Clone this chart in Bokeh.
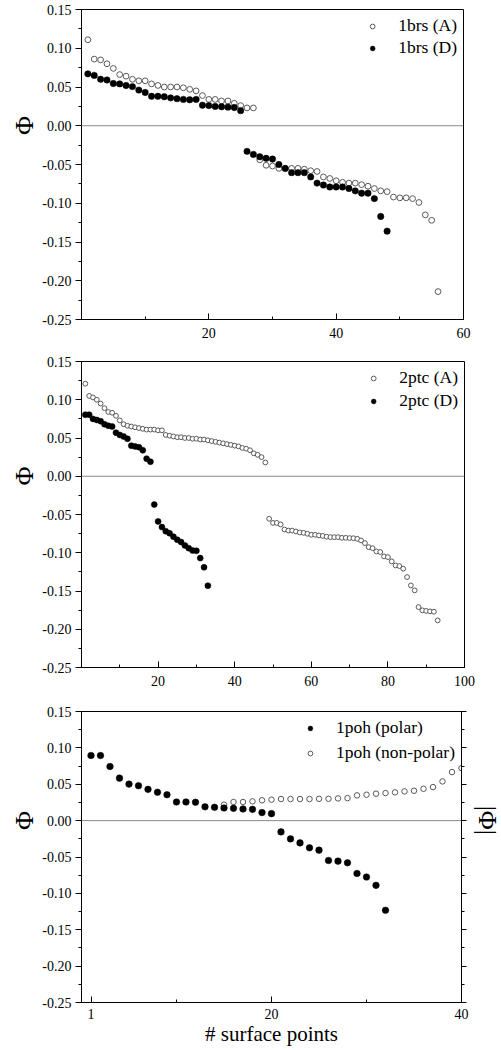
from math import pi
import numpy as np
from bokeh.plotting import figure
from bokeh.layouts import column
from bokeh.models import (Range1d, FixedTicker, NumeralTickFormatter, Span, Title,
                          Legend, LegendItem, LinearAxis, CustomJSTickFormatter)
from bokeh.embed import file_html
from bokeh.resources import INLINE

SERIF = "Liberation Serif"

# ---------------- data ----------------
brs_A = [0.111, 0.086, 0.085, 0.080, 0.074, 0.066, 0.064, 0.060, 0.058, 0.058,
         0.054, 0.052, 0.050, 0.050, 0.050, 0.049, 0.047, 0.045, 0.039, 0.034,
         0.034, 0.032, 0.032, 0.029, 0.026, 0.023, 0.023,
         -0.044, -0.051, -0.052, -0.055, -0.055, -0.055, -0.055, -0.056, -0.058, -0.059,
         -0.066, -0.068, -0.071, -0.073, -0.074, -0.074, -0.076, -0.078, -0.081, -0.084,
         -0.085, -0.092, -0.093, -0.093, -0.094, -0.099, -0.115, -0.122, -0.214]
brs_D = [0.067, 0.065, 0.060, 0.059, 0.0545, 0.054, 0.052, 0.0505, 0.046, 0.043,
         0.038, 0.038, 0.0375, 0.036, 0.035, 0.034, 0.0335, 0.034, 0.0265, 0.026,
         0.025, 0.0245, 0.024, 0.0235, 0.0195,
         -0.033, -0.037, -0.040, -0.042, -0.043, -0.050, -0.055, -0.0605, -0.0605, -0.0605,
         -0.066, -0.074, -0.0765, -0.079, -0.079, -0.079, -0.081, -0.084, -0.087, -0.087,
         -0.094, -0.117, -0.136]

ptc_A = [0.121, 0.105, 0.103, 0.100, 0.095, 0.089, 0.084, 0.083, 0.079, 0.073,
         0.068, 0.066, 0.065, 0.064, 0.063, 0.062, 0.061, 0.061, 0.061, 0.060,
         0.060, 0.054, 0.053, 0.052, 0.051, 0.051, 0.050, 0.050, 0.049, 0.049,
         0.048, 0.048, 0.047, 0.046, 0.045, 0.044, 0.043, 0.042, 0.041, 0.040,
         0.039, 0.037, 0.036, 0.034, 0.030, 0.028, 0.025, 0.018,
         -0.0556, -0.061, -0.061, -0.063, -0.0696, -0.071, -0.071, -0.0722, -0.0735, -0.074,
         -0.0752, -0.0765, -0.0765, -0.0774, -0.078, -0.079, -0.0796, -0.0796, -0.0796, -0.0805,
         -0.0805, -0.0808, -0.081, -0.0818, -0.0839, -0.0874, -0.0927, -0.094, -0.0983, -0.099,
         -0.1048, -0.1057, -0.1113, -0.1166, -0.1174, -0.1209, -0.1318, -0.1427, -0.1492, -0.171,
         -0.1753, -0.176, -0.1766, -0.1771, -0.1884]
ptc_D = [0.0805, 0.0805, 0.075, 0.0736, 0.072, 0.068, 0.066, 0.065, 0.057, 0.054,
         0.052, 0.049, 0.040, 0.039, 0.038, 0.034, 0.023, 0.019,
         -0.037, -0.059, -0.0665, -0.072, -0.0745, -0.079, -0.083, -0.086, -0.0905, -0.094,
         -0.097, -0.0975, -0.107, -0.119, -0.143]

poh_polar = [0.0895, 0.0895, 0.0744, 0.0584, 0.0502, 0.048, 0.043, 0.039, 0.0356, 0.0256,
             0.0256, 0.0253, 0.019, 0.0183, 0.0174, 0.0169, 0.016, 0.0155, 0.011, 0.0096,
             -0.0155, -0.0251, -0.0306, -0.0374, -0.0406, -0.0548, -0.0557, -0.058, -0.0726, -0.0776,
             -0.089, -0.1233]
poh_nonpolar_first = 15
poh_nonpolar = [0.0219, 0.0256, 0.0256, 0.0265, 0.0279, 0.0288, 0.0297, 0.0297, 0.0297, 0.0297,
                0.030, 0.030, 0.0305, 0.031, 0.0347, 0.0356, 0.037, 0.0379, 0.0388, 0.0402,
                0.0411, 0.0438, 0.0461, 0.0539, 0.0667, 0.0722]

y_ticks = [-0.25, -0.20, -0.15, -0.10, -0.05, 0.00, 0.05, 0.10, 0.15]
y_minor = [-0.225, -0.175, -0.125, -0.075, -0.025, 0.025, 0.075, 0.125]

p1_xticks, p1_xminor = [20, 40, 60], [10, 30, 50]
p2_xticks, p2_xminor = [20, 40, 60, 80, 100], [10, 30, 50, 70, 90]
p3_xticks, p3_xminor = [1, 20, 40], [10, 30]

Y_LO, Y_HI = -0.25, 0.15
PHI_FONT = "26px"
PHI_W = 19.5      # approx. width of "Φ" at 26px
ABS_PHI_W = 30.0  # approx. width of "|Φ|" at 26px


def idx(vals, start=1):
    return list(range(start, start + len(vals)))


def make_panel(xmax, xticks, xminor, fw, fh, bl, bt, bb, br, xstand):
    p = figure(frame_width=fw, frame_height=fh, min_border_left=bl, min_border_top=bt,
               min_border_bottom=bb, min_border_right=br,
               x_range=Range1d(0, xmax), y_range=Range1d(Y_LO, Y_HI),
               output_backend="svg", toolbar_location=None, tools="", title=None)
    p.grid.visible = False
    p.outline_line_color = "black"
    p.outline_line_width = 1
    p.background_fill_color = "white"
    p.border_fill_color = "white"

    xa = p.xaxis[0]
    xa.ticker = FixedTicker(ticks=xticks, minor_ticks=xminor)
    xa.major_tick_in, xa.major_tick_out = 6, 0
    xa.minor_tick_in, xa.minor_tick_out = 3, 0
    xa.major_label_standoff = xstand
    xa.major_label_text_font = SERIF
    xa.major_label_text_font_size = "14px"
    xa.major_label_text_color = "black"
    xa.axis_line_color = "black"

    ya = p.yaxis[0]
    ya.ticker = FixedTicker(ticks=y_ticks, minor_ticks=y_minor)
    ya.formatter = NumeralTickFormatter(format="0.00")
    ya.major_tick_in, ya.major_tick_out = 0, 6
    ya.minor_tick_in, ya.minor_tick_out = 0, 3
    ya.major_label_standoff = 4
    ya.major_label_text_font = SERIF
    ya.major_label_text_font_size = "14px"
    ya.major_label_text_color = "black"
    ya.axis_line_color = "black"

    p.add_layout(Span(location=0, dimension="width", line_color="#8a8a8a", line_width=1))
    zero_from_top = fh * Y_HI / (Y_HI - Y_LO)
    p.add_layout(Title(text="Φ", align="right", vertical_align="middle",
                       offset=zero_from_top - PHI_W / 2, standoff=0,
                       text_font=SERIF, text_font_size=PHI_FONT, text_font_style="normal",
                       text_color="black"), "left")
    return p


def add_legend(p, items, spacing):
    leg = Legend(items=items, location="top_right", orientation="vertical",
                 glyph_width=12, glyph_height=20, label_height=20, label_standoff=20,
                 spacing=spacing, padding=0, margin=6, border_line_color=None,
                 background_fill_alpha=0, label_text_font=SERIF,
                 label_text_font_size="17.5px", label_text_color="black")
    p.add_layout(leg)


OPEN = dict(fill_color="white", line_color="#5a5a5a", line_width=1)
FILL = dict(fill_color="black", line_color="black", line_width=0.5)

# ---------------- panel 1 ----------------
p1 = make_panel(60, p1_xticks, p1_xminor, 382, 310, 78, 9, 31, 38, 8)
rA = p1.scatter(idx(brs_A), brs_A, size=5.8, **OPEN)
rD = p1.scatter(idx(brs_D), brs_D, size=6.4, **FILL)
add_legend(p1, [LegendItem(label="1brs (A)", renderers=[rA]),
                LegendItem(label="1brs (D)", renderers=[rD])], 1)

# ---------------- panel 2 ----------------
p2 = make_panel(100, p2_xticks, p2_xminor, 383, 306, 80, 11, 33, 35, 8)
rA2 = p2.scatter(idx(ptc_A), ptc_A, size=4.8, **OPEN)
rD2 = p2.scatter(idx(ptc_D), ptc_D, size=6.0, **FILL)
add_legend(p2, [LegendItem(label="2ptc (A)", renderers=[rA2]),
                LegendItem(label="2ptc (D)", renderers=[rD2])], 2)

# ---------------- panel 3 ----------------
FH3, FW3 = 291, 380
p3 = make_panel(40, p3_xticks, p3_xminor, FW3, FH3, 81, 11, 46, 37, 6)
rN = p3.scatter(idx(poh_nonpolar, poh_nonpolar_first), poh_nonpolar, size=5.5, **OPEN)
rP = p3.scatter(idx(poh_polar), poh_polar, size=6.6, **FILL)
add_legend(p3, [LegendItem(label="1poh (polar)", renderers=[rP]),
                LegendItem(label="1poh (non-polar)", renderers=[rN])], 4)

xa3 = p3.xaxis[0]
xa3.axis_label = "# surface points"
xa3.axis_label_standoff = 0
xa3.axis_label_text_font = SERIF
xa3.axis_label_text_font_size = "21px"
xa3.axis_label_text_font_style = "normal"
xa3.axis_label_text_color = "black"

rax = LinearAxis(ticker=FixedTicker(ticks=y_ticks, minor_ticks=y_minor),
                 formatter=CustomJSTickFormatter(code="return ''"),
                 major_tick_in=0, major_tick_out=5, minor_tick_in=0, minor_tick_out=3,
                 axis_line_color="black", major_label_standoff=0)
p3.add_layout(rax, "right")
zero3 = FH3 * Y_HI / (Y_HI - Y_LO)
p3.add_layout(Title(text="|Φ|", align="left", vertical_align="middle",
                    offset=zero3 - ABS_PHI_W / 2, standoff=10,
                    text_font=SERIF, text_font_size=PHI_FONT, text_font_style="normal",
                    text_color="black"), "right")

layout = column(p1, p2, p3, spacing=0)
open("out.html", "w").write(file_html(layout, INLINE))
